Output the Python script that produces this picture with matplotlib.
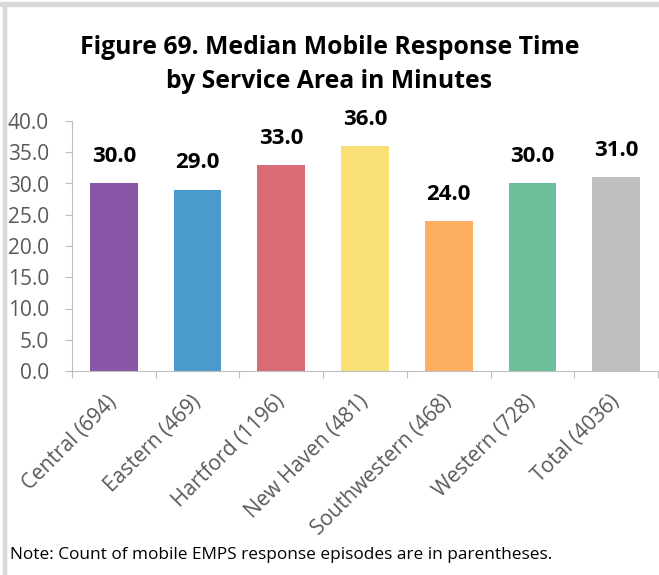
import matplotlib.pyplot as plt
from matplotlib.patches import Rectangle

areas = ['Central (694)', 'Eastern (469)', 'Hartford (1196)', 'New Haven (481)',
         'Southwestern (468)', 'Western (728)', 'Total (4036)']
minutes = [30.0, 29.0, 33.0, 36.0, 24.0, 30.0, 31.0]
colors = ['#8856a7', '#4a9bcc', '#d96b74', '#f9e076', '#fdae61', '#6bbf9b', '#bfbfbf']

plt.rcParams['font.family'] = ['Open Sans', 'DejaVu Sans']

fig = plt.figure(figsize=(6.59, 5.75), dpi=100)
ax = fig.add_axes([72 / 659, 1 - 371 / 575, (658 - 72) / 659, 250 / 575])

x = range(len(areas))
bars = ax.bar(x, minutes, width=0.57, color=colors)
for b, v in zip(bars, minutes):
    ax.text(b.get_x() + b.get_width() / 2, v + 2.6, f'{v:.1f}', ha='center', va='bottom',
            fontsize=16, fontweight='bold', color='black')

ax.set_xlim(-0.5, len(areas) - 0.5)
ax.set_ylim(0, 40)
ax.set_yticks([i * 5 for i in range(9)])
ax.set_yticklabels([f'{i * 5:.1f}' for i in range(9)], fontsize=15, color='#595959')
ax.set_xticks([i - 0.5 for i in range(len(areas) + 1)], minor=False)
ax.set_xticklabels([])
ax.set_xticks(list(x), minor=True)
ax.set_xticklabels(areas, minor=True, rotation=45, ha='right', va='center',
                   rotation_mode='anchor', fontsize=15, color='#595959')
ax.tick_params(axis='x', which='minor', length=0, pad=20)
ax.tick_params(axis='x', which='major', length=5, color='#bfbfbf', direction='out')
ax.tick_params(axis='y', length=5, color='#bfbfbf', pad=11.5)
for s in ['top', 'right']:
    ax.spines[s].set_visible(False)
ax.spines['left'].set_color('#bfbfbf')
ax.spines['bottom'].set_color('#bfbfbf')

fig.text(0.5, 1 - 47 / 575, 'Figure 69. Median Mobile Response Time', ha='center', va='center',
         fontsize=17.8, fontweight='bold')
fig.text(0.5, 1 - 82 / 575, 'by Service Area in Minutes', ha='center', va='center',
         fontsize=17.8, fontweight='bold')
fig.text(10 / 659, 1 - 555 / 575, 'Note: Count of mobile EMPS response episodes are in parentheses.',
         ha='left', va='center', fontsize=12.4)

fig.patches.append(Rectangle((0, 1 - 6 / 575), 1, 4 / 575, transform=fig.transFigure,
                             color='#d9d9d9', zorder=0))
fig.patches.append(Rectangle((3 / 659, 0), 2.5 / 659, 1 - 2 / 575, transform=fig.transFigure,
                             color='#d9d9d9', zorder=0))

fig.savefig('out.png', dpi=100)
